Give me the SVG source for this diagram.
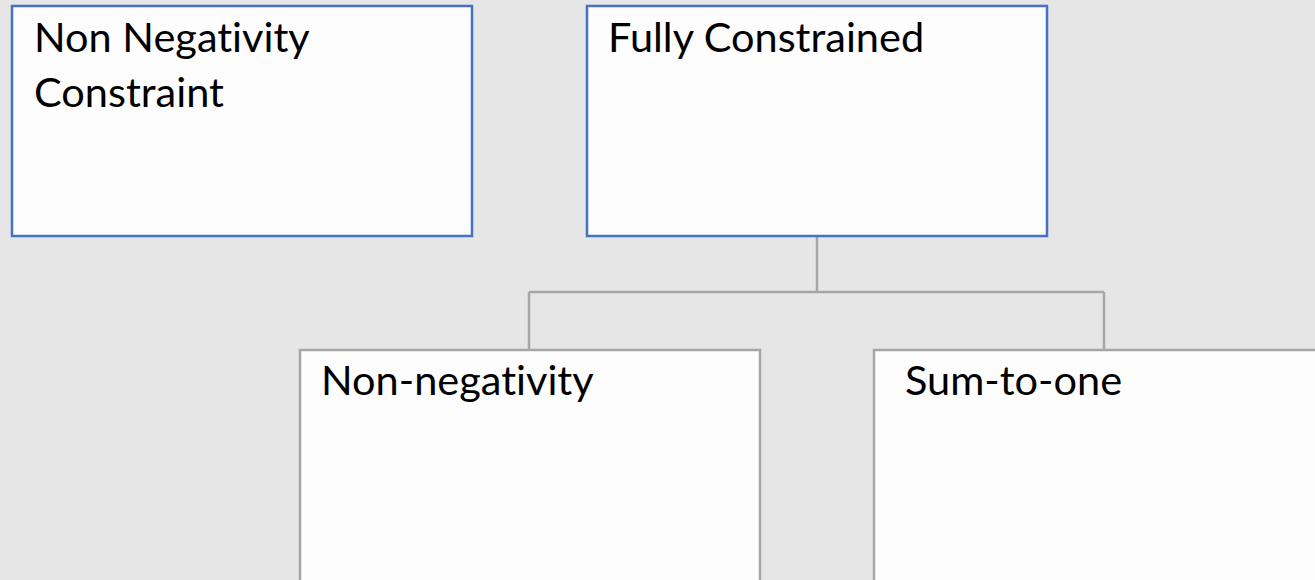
<svg xmlns="http://www.w3.org/2000/svg" width="1315" height="580" viewBox="0 0 1315 580">
<style>
.bg{fill:#E6E6E6}
.blue{fill:#FDFDFD;stroke:#4472C4;stroke-width:2.5}
.gray{fill:#FDFDFD;stroke:#A6A6A6;stroke-width:2.5}
.conn{fill:none;stroke:#A6A6A6;stroke-width:2.5}
text{font-family:Lato,"Open Sans",sans-serif;font-size:41.5px;fill:#000;font-variant-ligatures:none;font-feature-settings:"liga" 0,"clig" 0}
</style>
<rect class="bg" x="0" y="0" width="1315" height="580"/>
<g id="connectors">
<path class="conn" d="M817 236 V292 M529 292 H1104 M529 292 V350 M1104 292 V350"/>
</g>
<g id="node-nonneg-constraint">
<rect class="blue" x="12" y="6" width="460" height="230"/>
<text x="34" y="52">Non Negativity</text>
<text x="34" y="107">Constraint</text>
</g>
<g id="node-fully-constrained">
<rect class="blue" x="587" y="6" width="460" height="230"/>
<text x="608" y="52">Fully Constrained</text>
</g>
<g id="node-non-negativity">
<rect class="gray" x="300" y="350" width="460" height="240"/>
<text x="321" y="395">Non-negativity</text>
</g>
<g id="node-sum-to-one">
<rect class="gray" x="874" y="350" width="460" height="240"/>
<text x="905" y="395">Sum-to-one</text>
</g>
</svg>
